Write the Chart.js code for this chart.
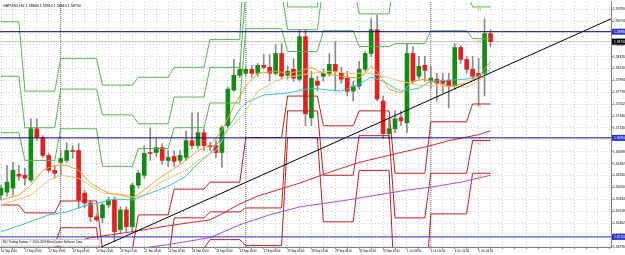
<!DOCTYPE html>
<html><head><meta charset="utf-8">
<script src="https://cdn.jsdelivr.net/npm/chart.js@4.4.1/dist/chart.umd.min.js"></script>
<style>
html,body{margin:0;padding:0;background:#fff;overflow:hidden;width:625px;height:255px}
canvas{display:block}
</style></head><body>
<canvas id="c" width="660" height="255" style="width:660px;height:255px"></canvas>
<script>
// ---------- DATA ----------
const symbolTitle = "GBPUSD,H4  1.58844 1.58916 1.58610 1.58700";
const footerText = "MQ Trading Station, \u00a9 2001-2009 MetaQuotes Software Corp.";
const timeLabels = ["16 Sep 2010","17 Sep 00:00","17 Sep 16:00","20 Sep 04:00","20 Sep 20:00","21 Sep 12:00","22 Sep 04:00","22 Sep 20:00","23 Sep 12:00","24 Sep 04:00","24 Sep 20:00","27 Sep 08:00","28 Sep 00:00","28 Sep 16:00","29 Sep 08:00","30 Sep 00:00","30 Sep 16:00","1 Oct 08:00","3 Oct 20:00","4 Oct 12:00","5 Oct 04:00"];
const timeLabelBars = [0,4,8,12,16,20,24,28,32,36,40,44,48,52,56,60,64,68,72,76,80];

const opens = [1.55910,1.55964,1.56036,1.56288,1.56270,1.56180,1.57116,1.56954,1.56630,1.56360,1.56504,1.56540,1.56720,1.56720,1.55946,1.55766,1.55514,1.55496,1.55730,1.55820,1.55280,1.55640,1.55334,1.56090,1.56270,1.56684,1.56684,1.56774,1.56540,1.56612,1.56540,1.56594,1.56900,1.56810,1.57044,1.56810,1.56810,1.56684,1.57170,1.57818,1.58088,1.58124,1.58196,1.58124,1.58268,1.58232,1.58124,1.58484,1.58088,1.58196,1.58016,1.58790,1.57314,1.57980,1.58070,1.58124,1.58286,1.58124,1.58034,1.57800,1.57890,1.58196,1.58484,1.58916,1.57620,1.57026,1.57116,1.57314,1.57224,1.58484,1.58070,1.58268,1.57980,1.58016,1.57998,1.57998,1.57890,1.58592,1.58376,1.58196,1.58124,1.58124,1.58844];
const highs = [1.56090,1.56450,1.56504,1.56450,1.56396,1.57296,1.57296,1.56990,1.56666,1.56432,1.56720,1.56864,1.56810,1.56846,1.56000,1.55820,1.55568,1.55766,1.55874,1.55874,1.55694,1.55694,1.56126,1.56360,1.56810,1.57134,1.56936,1.56846,1.56720,1.56720,1.56720,1.57080,1.57404,1.57404,1.57116,1.56864,1.56900,1.57170,1.57872,1.58376,1.58304,1.58250,1.58268,1.58304,1.58466,1.58466,1.58646,1.58664,1.58250,1.58394,1.58916,1.58916,1.58160,1.58070,1.58196,1.58484,1.58700,1.58232,1.58160,1.57980,1.58340,1.58520,1.59114,1.59186,1.57710,1.57296,1.57440,1.57440,1.58664,1.58610,1.58430,1.58430,1.58250,1.58124,1.58124,1.58124,1.58664,1.58628,1.58430,1.58430,1.58394,1.59114,1.58916];
const lows = [1.55820,1.55892,1.55910,1.56180,1.56090,1.56144,1.56900,1.56594,1.56324,1.56216,1.56270,1.56504,1.56576,1.55676,1.55676,1.55424,1.55424,1.55406,1.55676,1.55064,1.55226,1.55244,1.55244,1.56036,1.56216,1.56540,1.56612,1.56468,1.56432,1.56432,1.56486,1.56540,1.56756,1.56756,1.56720,1.56720,1.56594,1.56414,1.57134,1.57800,1.58052,1.58088,1.58052,1.58070,1.58196,1.57980,1.58088,1.58016,1.58016,1.57980,1.57980,1.57170,1.57170,1.57800,1.57980,1.58070,1.57800,1.57944,1.57710,1.57620,1.57836,1.58160,1.58430,1.57620,1.56936,1.56936,1.57044,1.57170,1.57044,1.57926,1.58016,1.57980,1.57854,1.57620,1.57764,1.57494,1.57836,1.58304,1.58124,1.58016,1.57530,1.57710,1.58610];
const closes = [1.56036,1.56144,1.56360,1.56252,1.56216,1.57116,1.56954,1.56630,1.56360,1.56306,1.56576,1.56720,1.56702,1.55820,1.55766,1.55514,1.55460,1.55730,1.55820,1.55244,1.55640,1.55334,1.56090,1.56306,1.56666,1.56666,1.56774,1.56540,1.56594,1.56522,1.56630,1.56900,1.56810,1.57044,1.56810,1.56792,1.56684,1.57134,1.57836,1.58088,1.58196,1.58196,1.58124,1.58268,1.58232,1.58124,1.58484,1.58070,1.58160,1.58034,1.58790,1.57386,1.58034,1.57908,1.58124,1.58286,1.58160,1.58016,1.57800,1.57890,1.58196,1.58484,1.58916,1.57656,1.57026,1.57116,1.57296,1.57260,1.58484,1.57980,1.58250,1.58178,1.58034,1.57944,1.57944,1.57890,1.58592,1.58376,1.58196,1.58070,1.58070,1.58844,1.58700];

// daily pivot levels (one value per trading day)
const dayFirstBar = [0,4,10,17,23,29,35,41,48,54,60,66,72,79];
const dayLastBar  = [3,9,16,22,28,34,40,47,53,59,65,71,78,82];
const pivotR3 = [1.5906,1.5780,1.58394,1.57908,1.58052,1.58232,1.58736,1.6086,1.5933,1.6059,1.5960,1.6158,1.6122,1.5996];
const pivotR2 = [1.5807,1.57134,1.57836,1.57368,1.57206,1.57692,1.58232,1.59618,1.58916,1.59762,1.59204,1.59996,1.5960,1.5933];
const pivotR1 = [1.57044,1.5654,1.57116,1.56432,1.56756,1.57134,1.57584,1.58934,1.5852,1.58898,1.5861,1.58664,1.58898,1.58754];
const pivotS1 = [1.5573,1.55586,1.55802,1.5492,1.5555,1.56018,1.56144,1.56954,1.5771,1.5717,1.5744,1.56306,1.57242,1.57566];
const pivotS2 = [1.5510,1.5501,1.55316,1.5447,1.54704,1.55496,1.55604,1.55676,1.5744,1.5627,1.5699,1.55496,1.56306,1.5690];
const pivotS3 = [1.5438,1.5420,1.54632,1.5348,1.54164,1.54938,1.5510,1.54992,1.56954,1.55424,1.5636,1.54056,1.55568,1.56306];

// moving averages (bar index, value)
const maCyanBars   = [0,3,8,11,14,17,19,22,25,28,31,33,35,37,40,41,44,48,52,55,57,60,62,64,66,67,70,72,78,80,82];
const maCyanValues = [1.55244,1.55352,1.5555,1.55604,1.55712,1.55784,1.55838,1.5582,1.55946,1.56072,1.56252,1.56486,1.56666,1.56954,1.57476,1.57584,1.57728,1.57764,1.57854,1.57818,1.578,1.57926,1.58052,1.5798,1.57854,1.578,1.57854,1.5798,1.58016,1.5807,1.58196];
const maFastBars   = [0,3,5,7,9,11,13,15,17,18,20,22,24,26,28,31,33,35,37,39,41,43,46,48,50,52,54,57,60,61,62,63,65,67,69,71,73,75,78,80,82];
const maFastValues = [1.5582,1.5591,1.5609,1.5636,1.5645,1.5645,1.5636,1.56126,1.5600,1.55946,1.5591,1.55856,1.5600,1.5618,1.56324,1.5654,1.5672,1.5681,1.5708,1.5753,1.5789,1.58124,1.5816,1.58124,1.5816,1.58232,1.58124,1.5807,1.58034,1.58124,1.5825,1.5816,1.57836,1.57764,1.5798,1.58016,1.57944,1.5789,1.57944,1.5807,1.5834];
const maSlowBars   = [0,5,8,10,13,17,21,22,24,26,28,31,33,36,38,41,43,46,48,52,55,58,62,64,67,70,74,78,80,82];
const maSlowValues = [1.5573,1.5591,1.5618,1.5627,1.56216,1.55946,1.5591,1.55874,1.5591,1.5609,1.56216,1.5636,1.5654,1.5672,1.5708,1.5744,1.578,1.5798,1.58052,1.58124,1.5816,1.58124,1.58124,1.5807,1.5798,1.57908,1.5789,1.57872,1.5798,1.5816];
const maPurpleBars   = [10,22,28,35,40,45,50,58,63,68,72,77,82];
const maPurpleValues = [1.5460,1.5492,1.5501,1.55136,1.5537,1.5555,1.55694,1.5582,1.5591,1.5600,1.56054,1.56144,1.5627];
const maRedBars   = [0,15,22,28,35,37,40,43,50,55,60,67,72,75,80,82];
const maRedValues = [1.5470,1.55136,1.55244,1.55352,1.5546,1.55568,1.55748,1.55892,1.56126,1.56324,1.56504,1.56684,1.5681,1.569,1.57008,1.5708];

const levelLines = [1.5888, 1.5695, 1.5515];
const trendBars = [16.6, 102.2];
const trendValues = [1.54956, 1.59114];
const weekSeparatorBars = [10, 41, 72];
const priceTicks = [1.5929,1.59074,1.58858,1.58642,1.58426,1.5821,1.57994,1.57778,1.57562,1.57346,1.5713,1.56914,1.56698,1.56482,1.56266,1.5605,1.55834,1.55618,1.55402,1.55186,1.5497];
const pivotTags = ["R2","R1","S1","S2","S3"];

// ---------- CHART ----------
const X_MIN = -0.17, X_MAX = 102.18, Y_MIN = 1.54966, Y_MAX = 1.5942;
const FONT = '"Liberation Sans", Arial, sans-serif';
const barIdx = opens.map((_, i) => i);
const lastClose = closes[closes.length - 1];
const pts = (xs, ys) => xs.map((x, i) => ({x, y: ys[i]}));
const pivotPts = lv => { const p = []; lv.forEach((v, d) => { p.push({x: dayFirstBar[d], y: v}); p.push({x: dayLastBar[d], y: v}); }); return p; };
const lineDs = (data, color, order, extra) => Object.assign({type: 'line', data, borderColor: color, borderWidth: 1, pointRadius: 0, tension: 0, fill: false, order}, extra || {});

Chart.defaults.font.family = FONT;
Chart.defaults.font.size = 3;
Chart.defaults.color = '#000';

const GREEN_PIV = '#55b455', RED_PIV = '#b82323';
const datasets = [
  ...weekSeparatorBars.map(b => lineDs([{x: b, y: Y_MIN}, {x: b, y: Y_MAX}], '#707070', 12, {borderDash: [1, 1]})),
  lineDs([{x: X_MIN, y: lastClose}, {x: X_MAX, y: lastClose}], '#c4c4c4', 11),
  {type: 'bar', data: barIdx.map(i => ({x: i, y: [lows[i], highs[i]]})), backgroundColor: '#8a8a8a', barThickness: 1, grouped: false, order: 10},
  {type: 'bar', data: barIdx.map(i => ({x: i, y: [opens[i], closes[i]]})), backgroundColor: barIdx.map(i => closes[i] >= opens[i] ? '#158a15' : '#e41f1c'), barThickness: 4, minBarLength: 1, grouped: false, order: 9},
  lineDs(pivotPts(pivotR3), GREEN_PIV, 8),
  lineDs(pivotPts(pivotR2), GREEN_PIV, 8),
  lineDs(pivotPts(pivotR1), GREEN_PIV, 8),
  lineDs(pivotPts(pivotS1), RED_PIV, 8),
  lineDs(pivotPts(pivotS2), RED_PIV, 8),
  lineDs(pivotPts(pivotS3), RED_PIV, 8),
  lineDs(pts(maPurpleBars, maPurpleValues), '#a64fd2', 6),
  lineDs(pts(maRedBars, maRedValues), '#cf2a2a', 6),
  lineDs(pts(maCyanBars, maCyanValues), '#3fc0cc', 5),
  lineDs(pts(maSlowBars, maSlowValues), '#f3c272', 4),
  lineDs(pts(maFastBars, maFastValues), '#eda22a', 3),
  lineDs(pts(trendBars, trendValues), '#000000', 2),
  lineDs([{x: X_MIN, y: levelLines[0]}, {x: X_MAX, y: levelLines[0]}], '#0b0b7a', 1),
  lineDs([{x: X_MIN, y: levelLines[1]}, {x: X_MAX, y: levelLines[1]}], '#0b0b7a', 1),
  lineDs([{x: X_MIN, y: levelLines[2]}, {x: X_MAX, y: levelLines[2]}], '#2a2ab4', 1)
];

const overlay = {
  id: 'overlay',
  afterDatasetsDraw(chart) {
    const {ctx, chartArea: a, scales: {x, y}} = chart;
    ctx.save();
    ctx.textBaseline = 'middle';
    // footer box
    ctx.fillStyle = '#fff';
    ctx.fillRect(a.left + 1, a.bottom - 8, 99, 7);
    ctx.strokeStyle = '#9a9a9a'; ctx.lineWidth = 0.5;
    ctx.strokeRect(a.left + 1.5, a.bottom - 7.5, 98, 6.5);
    ctx.fillStyle = '#000';
    ctx.font = '2.9px ' + FONT;
    ctx.fillText(footerText, a.left + 3, a.bottom - 4.3);
    ctx.font = '3.6px ' + FONT;
    ctx.fillText(symbolTitle, a.left + 3, a.top + 4);
    // pivot tags
    const lastDay = dayFirstBar.length - 1;
    const tagLevels = [pivotR2[lastDay], pivotR1[lastDay], pivotS1[lastDay], pivotS2[lastDay], pivotS3[lastDay]];
    ctx.fillStyle = '#e6a040';
    ctx.font = '3px ' + FONT;
    const tx = x.getPixelForValue(timeLabelBars[timeLabelBars.length - 1]) - 1;
    tagLevels.forEach((v, k) => ctx.fillText(pivotTags[k], tx, y.getPixelForValue(v) + 3.5));
    ctx.restore();
  },
  afterDraw(chart) {
    const {ctx, chartArea: a, scales: {y}} = chart;
    ctx.save();
    ctx.font = '3.3px ' + FONT;
    ctx.textBaseline = 'middle';
    const box = (v, bg) => {
      const py = y.getPixelForValue(v);
      ctx.fillStyle = bg; ctx.fillRect(a.right + 1, py - 3, 40, 6);
      ctx.fillStyle = '#fff'; ctx.fillText(v.toFixed(5), a.right + 3, py);
    };
    box(levelLines[0], '#2b35c8');
    box(levelLines[1], '#2b35c8');
    box(levelLines[2], '#2b35c8');
    box(lastClose, '#000');
    ctx.restore();
  }
};

new Chart(document.getElementById('c'), {
  type: 'line',
  data: {datasets},
  options: {
    responsive: false, animation: false, events: [], devicePixelRatio: 1,
    layout: {padding: 0, autoPadding: false},
    plugins: {legend: {display: false}, tooltip: {enabled: false}},
    scales: {
      x: {
        type: 'linear', position: 'bottom', min: X_MIN, max: X_MAX, offset: false,
        afterBuildTicks: s => { const t = []; for (let b = 0; b <= 102; b += 2) t.push({value: b}); s.ticks = t; },
        afterFit: s => { s.height = 8; },
        ticks: {autoSkip: false, maxRotation: 0, minRotation: 0, align: 'start', padding: 1, font: {size: 2.8},
          callback: v => { const k = timeLabelBars.indexOf(v); return k >= 0 ? timeLabels[k] : ''; }},
        grid: {color: '#cfcfcf', lineWidth: 1, drawTicks: true, tickLength: 2, offset: false, tickColor: '#808080'},
        border: {display: true, color: '#808080', dash: [1, 2]}
      },
      y: {
        type: 'linear', position: 'right', min: Y_MIN, max: Y_MAX,
        afterBuildTicks: s => { s.ticks = priceTicks.map(v => ({value: v})); },
        afterFit: s => { s.width = 49; },
        ticks: {padding: 0, font: {size: 3.3}, callback: v => Number(v).toFixed(5)},
        grid: {color: '#cfcfcf', lineWidth: 1, drawTicks: true, tickLength: 2, tickColor: '#808080'},
        border: {display: true, color: '#808080', dash: [1, 2]}
      }
    }
  },
  plugins: [overlay]
});
</script>
</body></html>
